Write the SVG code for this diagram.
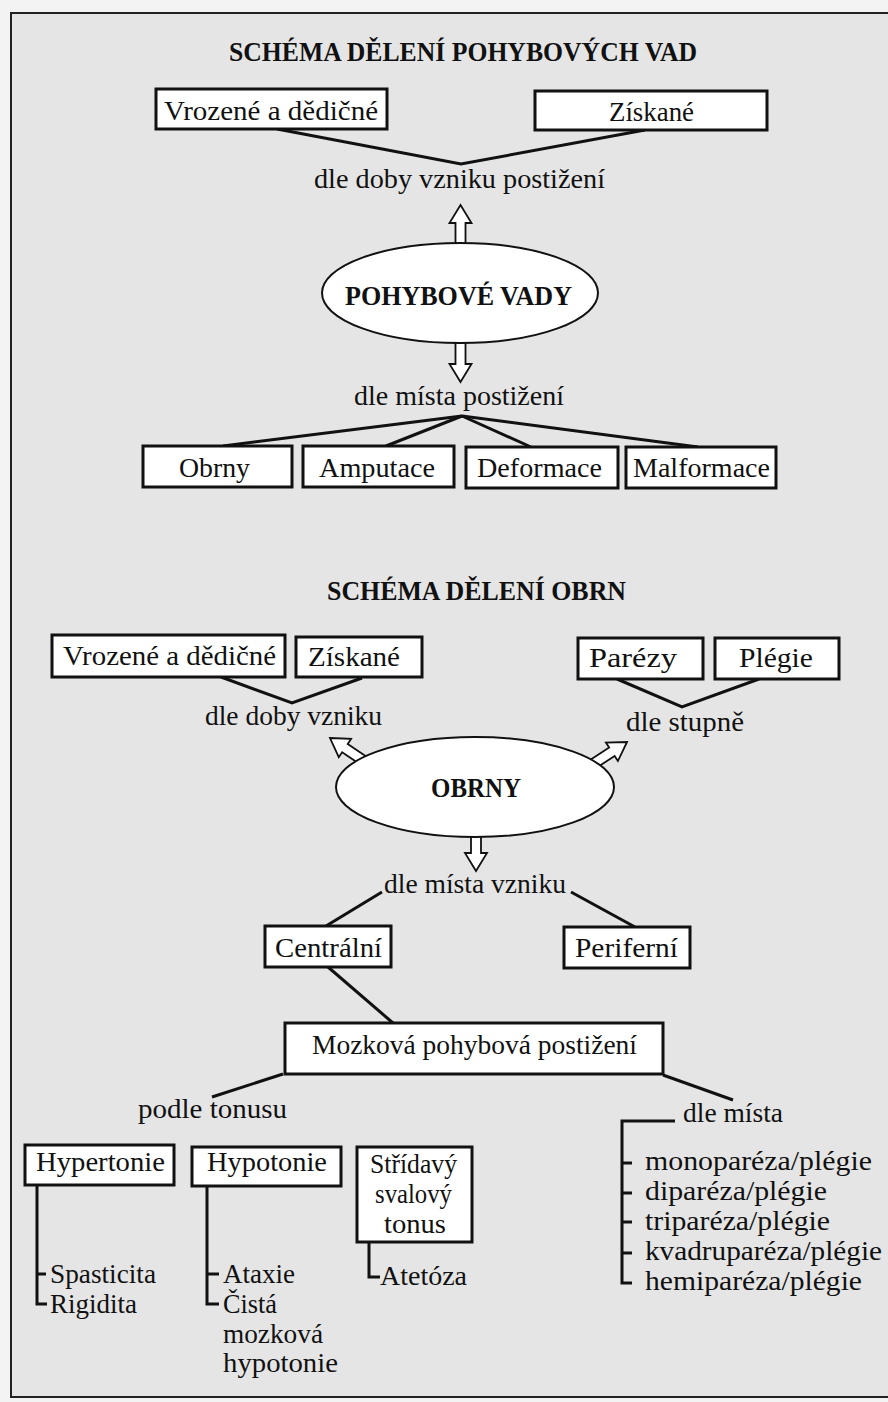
<svg xmlns="http://www.w3.org/2000/svg" xmlns:xlink="http://www.w3.org/1999/xlink" width="888" height="1402" viewBox="0 0 888 1402">
<defs>
<style>
.box{fill:#fff;stroke:#111;stroke-width:3}
.ell{fill:#fff;stroke:#111;stroke-width:2}
.ln{fill:none;stroke:#111;stroke-width:3;stroke-linejoin:miter}
.arr{fill:#fff;stroke:#111;stroke-width:1.8;stroke-linejoin:miter}
text{font-family:"Liberation Serif","Times New Roman",serif;font-size:28px;fill:#111}
.ttl{font-weight:bold;font-size:27px}
</style>
<path id="harrow" d="M0,0 L11,18 L5,18 L5,52 L-5,52 L-5,18 L-11,18 Z"/>
</defs>
<rect x="0" y="0" width="888" height="1402" fill="#f3f3f3"/>
<rect x="11" y="13" width="900" height="1384" fill="#e5e5e5" stroke="#222" stroke-width="2"/>

<g id="connectors">
<polyline class="ln" points="277,129 461,164 645,130"/>
<line class="ln" x1="462" y1="416" x2="223" y2="446"/>
<line class="ln" x1="462" y1="416" x2="386" y2="446"/>
<line class="ln" x1="462" y1="416" x2="531" y2="447"/>
<line class="ln" x1="462" y1="416" x2="698" y2="447"/>
<polyline class="ln" points="221,677 292,703 362,678"/>
<polyline class="ln" points="617,679 682,707 759,679"/>
<line class="ln" x1="382" y1="892" x2="326" y2="926"/>
<line class="ln" x1="571" y1="892" x2="635" y2="927"/>
<line class="ln" x1="328" y1="967" x2="393" y2="1023"/>
<line class="ln" x1="283" y1="1074" x2="212" y2="1097"/>
<line class="ln" x1="663" y1="1075" x2="733" y2="1100"/>
<polyline class="ln" points="675,1121 622,1121 622,1283 632,1283"/>
<line class="ln" x1="622" y1="1163" x2="632" y2="1163"/>
<line class="ln" x1="622" y1="1193" x2="632" y2="1193"/>
<line class="ln" x1="622" y1="1222" x2="632" y2="1222"/>
<line class="ln" x1="622" y1="1253" x2="632" y2="1253"/>
<polyline class="ln" points="37,1185 37,1304 47,1304"/>
<line class="ln" x1="37" y1="1274" x2="46" y2="1274"/>
<polyline class="ln" points="207,1186 207,1304 219,1304"/>
<line class="ln" x1="207" y1="1274" x2="219" y2="1274"/>
<polyline class="ln" points="369,1242 369,1277 380,1277"/>
<use xlink:href="#harrow" class="arr" transform="translate(460.5,205)"/>
<use xlink:href="#harrow" class="arr" transform="translate(460.5,382) rotate(180)"/>
<use xlink:href="#harrow" class="arr" transform="translate(476,871) rotate(180)"/>
<use xlink:href="#harrow" class="arr" transform="translate(330,738) rotate(-56)"/>
<use xlink:href="#harrow" class="arr" transform="translate(627,742) rotate(57)"/>
</g>

<g id="title1"><text class="ttl" x="229" y="61" textLength="468" lengthAdjust="spacingAndGlyphs">SCHÉMA DĚLENÍ POHYBOVÝCH VAD</text></g>
<g id="vrozene1"><rect class="box" x="156" y="89" width="231" height="40"/><text x="164" y="120" textLength="214" lengthAdjust="spacingAndGlyphs">Vrozené a dědičné</text></g>
<g id="ziskane1"><rect class="box" x="535" y="91" width="232" height="39"/><text x="609" y="121" textLength="85" lengthAdjust="spacingAndGlyphs">Získané</text></g>
<g id="lbl-doby1"><text x="314" y="188" textLength="291" lengthAdjust="spacingAndGlyphs">dle doby vzniku postižení</text></g>
<g id="pohybove-vady"><ellipse class="ell" cx="460" cy="293" rx="138" ry="50"/><text class="ttl" x="345" y="305" textLength="227" lengthAdjust="spacingAndGlyphs">POHYBOVÉ  VADY</text></g>
<g id="lbl-mista1"><text x="354" y="405" textLength="210" lengthAdjust="spacingAndGlyphs">dle místa postižení</text></g>
<g id="obrny1"><rect class="box" x="143" y="446" width="149" height="41"/><text x="179" y="477" textLength="71" lengthAdjust="spacingAndGlyphs">Obrny</text></g>
<g id="amputace"><rect class="box" x="303" y="446" width="151" height="41"/><text x="319" y="477" textLength="116" lengthAdjust="spacingAndGlyphs">Amputace</text></g>
<g id="deformace"><rect class="box" x="466" y="447" width="152" height="41"/><text x="477" y="477" textLength="125" lengthAdjust="spacingAndGlyphs">Deformace</text></g>
<g id="malformace"><rect class="box" x="626" y="447" width="150" height="41"/><text x="633" y="477" textLength="137" lengthAdjust="spacingAndGlyphs">Malformace</text></g>

<g id="title2"><text class="ttl" x="327" y="600" textLength="299" lengthAdjust="spacingAndGlyphs">SCHÉMA DĚLENÍ OBRN</text></g>
<g id="vrozene2"><rect class="box" x="52" y="635" width="233" height="42"/><text x="63" y="665" textLength="213" lengthAdjust="spacingAndGlyphs">Vrozené a dědičné</text></g>
<g id="ziskane2"><rect class="box" x="296" y="637" width="126" height="40"/><text x="308" y="666" textLength="92" lengthAdjust="spacingAndGlyphs">Získané</text></g>
<g id="parezy"><rect class="box" x="578" y="638" width="125" height="41"/><text x="589" y="667" textLength="88" lengthAdjust="spacingAndGlyphs">Parézy</text></g>
<g id="plegie"><rect class="box" x="715" y="638" width="124" height="41"/><text x="739" y="667" textLength="74" lengthAdjust="spacingAndGlyphs">Plégie</text></g>
<g id="lbl-doby2"><text x="205" y="725" textLength="177" lengthAdjust="spacingAndGlyphs">dle doby vzniku</text></g>
<g id="lbl-stupne"><text x="626" y="731" textLength="118" lengthAdjust="spacingAndGlyphs">dle stupně</text></g>
<g id="obrny"><ellipse class="ell" cx="475" cy="787" rx="139" ry="50"/><text class="ttl" x="431" y="797" textLength="90" lengthAdjust="spacingAndGlyphs">OBRNY</text></g>
<g id="lbl-mista-vzniku"><text x="384" y="893" textLength="182" lengthAdjust="spacingAndGlyphs">dle místa vzniku</text></g>
<g id="centralni"><rect class="box" x="265" y="926" width="126" height="41"/><text x="275" y="957" textLength="107" lengthAdjust="spacingAndGlyphs">Centrální</text></g>
<g id="periferni"><rect class="box" x="564" y="927" width="126" height="41"/><text x="575" y="957" textLength="103" lengthAdjust="spacingAndGlyphs">Periferní</text></g>
<g id="mozkova"><rect class="box" x="285" y="1023" width="378" height="51"/><text x="312" y="1054" textLength="325" lengthAdjust="spacingAndGlyphs">Mozková pohybová postižení</text></g>
<g id="lbl-tonusu"><text x="138" y="1118" textLength="149" lengthAdjust="spacingAndGlyphs">podle tonusu</text></g>
<g id="lbl-mista2"><text x="683" y="1122" textLength="100" lengthAdjust="spacingAndGlyphs">dle místa</text></g>
<g id="hypertonie"><rect class="box" x="25" y="1145" width="149" height="40"/><text x="36" y="1171" textLength="129" lengthAdjust="spacingAndGlyphs">Hypertonie</text></g>
<g id="hypotonie"><rect class="box" x="192" y="1147" width="149" height="39"/><text x="207" y="1171" textLength="120" lengthAdjust="spacingAndGlyphs">Hypotonie</text></g>
<g id="stridavy"><rect class="box" x="357" y="1147" width="115" height="95"/><text x="370" y="1173" textLength="87" lengthAdjust="spacingAndGlyphs">Střídavý</text><text x="375" y="1203" textLength="77" lengthAdjust="spacingAndGlyphs">svalový</text><text x="384" y="1233" textLength="62" lengthAdjust="spacingAndGlyphs">tonus</text></g>
<g id="hypertonie-items"><text x="50" y="1283" textLength="106" lengthAdjust="spacingAndGlyphs">Spasticita</text><text x="50" y="1313" textLength="87" lengthAdjust="spacingAndGlyphs">Rigidita</text></g>
<g id="hypotonie-items"><text x="223" y="1283" textLength="72" lengthAdjust="spacingAndGlyphs">Ataxie</text><text x="223" y="1313" textLength="54" lengthAdjust="spacingAndGlyphs">Čistá</text><text x="223" y="1343" textLength="100" lengthAdjust="spacingAndGlyphs">mozková</text><text x="223" y="1372" textLength="115" lengthAdjust="spacingAndGlyphs">hypotonie</text></g>
<g id="stridavy-items"><text x="380" y="1285" textLength="87" lengthAdjust="spacingAndGlyphs">Atetóza</text></g>
<g id="mista-items"><text x="645" y="1170" textLength="227" lengthAdjust="spacingAndGlyphs">monoparéza/plégie</text><text x="645" y="1200" textLength="182" lengthAdjust="spacingAndGlyphs">diparéza/plégie</text><text x="645" y="1230" textLength="185" lengthAdjust="spacingAndGlyphs">triparéza/plégie</text><text x="645" y="1260" textLength="237" lengthAdjust="spacingAndGlyphs">kvadruparéza/plégie</text><text x="645" y="1290" textLength="217" lengthAdjust="spacingAndGlyphs">hemiparéza/plégie</text></g>
</svg>
